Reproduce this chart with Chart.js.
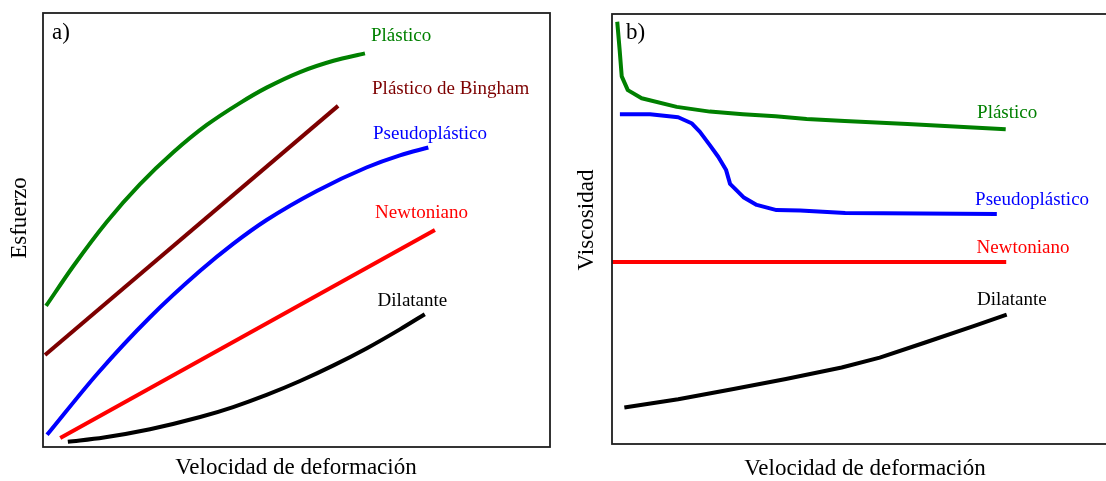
<!DOCTYPE html>
<html lang="es">
<head>
<meta charset="utf-8">
<title>Comportamiento reológico de fluidos</title>
<script src="https://cdn.jsdelivr.net/npm/chart.js@4.4.0/dist/chart.umd.min.js"></script>
<style>
  html, body { margin: 0; padding: 0; background: #fff; }
  #wrap { position: relative; width: 1106px; height: 481px; overflow: hidden; }
  .panel { position: absolute; top: 0; height: 481px; }
  #pa { left: 0; width: 560px; }
  #pb { left: 560px; width: 546px; }
</style>
</head>
<body>
<div id="wrap">
  <div class="panel" id="pa"><canvas id="ca" width="560" height="481"></canvas></div>
  <div class="panel" id="pb"><canvas id="cb" width="546" height="481"></canvas></div>
</div>
<script>
// ---- Panel a: esfuerzo frente a velocidad de deformación (unidades relativas 0-100) ----
const aPlasticoX   = [0.6, 6.0, 12.6, 19.1, 25.7, 32.3, 38.9, 44.1, 50.7, 57.3, 63.5];
const aPlasticoY   = [32.5, 41.7, 51.9, 60.5, 67.9, 74.2, 79.3, 82.8, 86.4, 89.0, 90.7];
const aBinghamX    = [0.4, 58.2];
const aBinghamY    = [21.2, 78.6];
const aPseudoX     = [0.8, 10.8, 21.1, 31.0, 37.5, 44.1, 54.0, 63.8, 70.4, 76.0];
const aPseudoY     = [2.8, 17.0, 29.9, 40.6, 46.8, 52.3, 59.0, 64.4, 67.2, 69.0];
const aNewtonX     = [3.4, 77.3];
const aNewtonY     = [2.1, 50.0];
const aDilatanteX  = [4.9, 12.0, 21.1, 31.0, 37.5, 44.1, 50.7, 57.3, 63.8, 70.4, 75.3];
const aDilatanteY  = [1.2, 2.2, 4.1, 6.9, 9.2, 12.0, 15.2, 18.8, 22.7, 27.1, 30.6];

// ---- Panel b: viscosidad frente a velocidad de deformación ----
const bPlasticoX   = [1.06, 1.55, 1.97, 3.2, 6.0, 13.1, 19.8, 26.5, 33.1, 39.4, 47.1, 59.8, 79.7];
const bPlasticoY   = [98.2, 91.6, 85.5, 82.3, 80.4, 78.4, 77.3, 76.7, 76.2, 75.6, 75.1, 74.4, 73.2];
const bPseudoX     = [1.6, 7.7, 13.4, 16.1, 17.8, 19.8, 21.5, 23.1, 23.9, 26.6, 29.3, 33.3, 38.1, 47.2, 77.9];
const bPseudoY     = [76.7, 76.7, 76.0, 74.6, 72.6, 69.5, 66.8, 63.7, 60.5, 57.4, 55.6, 54.4, 54.3, 53.7, 53.5];
const bNewtonX     = [0, 79.8];
const bNewtonY     = [42.3, 42.3];
const bDilatanteX  = [2.5, 13.4, 24.6, 35.2, 46.5, 54.2, 63.4, 73.2, 79.9];
const bDilatanteY  = [8.5, 10.4, 12.8, 15.1, 17.8, 20.1, 23.6, 27.4, 30.1];

const nombresA = ['Plástico', 'Plástico de Bingham', 'Pseudoplástico', 'Newtoniano', 'Dilatante'];
const nombresB = ['Plástico', 'Pseudoplástico', 'Newtoniano', 'Dilatante'];
const tituloX = 'Velocidad de deformación';
const tituloYA = 'Esfuerzo';
const tituloYB = 'Viscosidad';

const VERDE = '#008000', GRANATE = '#7d0000', AZUL = '#0000ff', ROJO = '#ff0000', NEGRO = '#000000';
const SERIF = '"Liberation Serif", "Times New Roman", serif';

function pts(xs, ys) { return xs.map((x, i) => ({ x: x, y: ys[i] })); }

function serie(label, xs, ys, color, smooth) {
  return {
    label: label,
    data: pts(xs, ys),
    borderColor: color,
    backgroundColor: color,
    borderWidth: 4,
    pointRadius: 0,
    showLine: true,
    fill: false,
    tension: smooth ? 0.4 : 0,
    cubicInterpolationMode: smooth ? 'monotone' : 'default',
    borderJoinStyle: 'round',
    clip: false
  };
}

// Marco, etiqueta del panel, títulos de ejes y rótulos de cada curva
const decoracion = {
  id: 'decoracion',
  afterDraw(chart, args, o) {
    const { ctx, chartArea: a, scales } = chart;
    ctx.save();
    ctx.strokeStyle = '#1e1e1e';
    ctx.lineWidth = 1.8;
    ctx.strokeRect(a.left, a.top, a.width + (o.abiertoDerecha ? 6 : 0), a.height);

    ctx.textBaseline = 'middle';
    ctx.fillStyle = '#000';
    ctx.font = '23px ' + SERIF;
    ctx.textAlign = 'left';
    ctx.fillText(o.etiqueta, a.left + o.etiquetaDx, a.top + o.etiquetaDy);

    ctx.textAlign = 'center';
    ctx.fillText(o.tituloX, o.tituloXpos[0], o.tituloXpos[1]);
    ctx.save();
    ctx.translate(o.tituloYpos[0], o.tituloYpos[1]);
    ctx.rotate(-Math.PI / 2);
    ctx.fillText(o.tituloY, 0, 0);
    ctx.restore();

    ctx.font = '19px ' + SERIF;
    ctx.textAlign = 'left';
    o.rotulos.forEach(r => {
      ctx.fillStyle = r.color;
      ctx.fillText(r.texto, scales.x.getPixelForValue(r.u), scales.y.getPixelForValue(r.v));
    });
    ctx.restore();
  }
};

function opciones(padding, deco) {
  return {
    responsive: false,
    devicePixelRatio: 1,
    animation: false,
    layout: { padding: padding },
    plugins: { legend: { display: false }, tooltip: { enabled: false }, decoracion: deco },
    scales: {
      x: { type: 'linear', min: 0, max: 100, display: false },
      y: { type: 'linear', min: 0, max: 100, display: false }
    },
    events: []
  };
}

new Chart(document.getElementById('ca'), {
  type: 'scatter',
  data: {
    datasets: [
      serie(nombresA[0], aPlasticoX, aPlasticoY, VERDE, true),
      serie(nombresA[1], aBinghamX, aBinghamY, GRANATE, false),
      serie(nombresA[2], aPseudoX, aPseudoY, AZUL, true),
      serie(nombresA[3], aNewtonX, aNewtonY, ROJO, false),
      serie(nombresA[4], aDilatanteX, aDilatanteY, NEGRO, true)
    ]
  },
  options: opciones({ left: 43, top: 13, right: 10, bottom: 34 }, {
    etiqueta: 'a)', etiquetaDx: 9, etiquetaDy: 20, abiertoDerecha: false,
    tituloX: tituloX, tituloXpos: [296, 468],
    tituloY: tituloYA, tituloYpos: [20, 218],
    rotulos: [
      { texto: nombresA[0], u: 64.7, v: 94.8, color: VERDE },
      { texto: nombresA[1], u: 64.9, v: 82.5, color: GRANATE },
      { texto: nombresA[2], u: 65.1, v: 72.1, color: AZUL },
      { texto: nombresA[3], u: 65.5, v: 54.0, color: ROJO },
      { texto: nombresA[4], u: 66.0, v: 33.6, color: NEGRO }
    ]
  }),
  plugins: [decoracion]
});

new Chart(document.getElementById('cb'), {
  type: 'scatter',
  data: {
    datasets: [
      serie(nombresB[0], bPlasticoX, bPlasticoY, VERDE, false),
      serie(nombresB[1], bPseudoX, bPseudoY, AZUL, false),
      serie(nombresB[2], bNewtonX, bNewtonY, ROJO, false),
      serie(nombresB[3], bDilatanteX, bDilatanteY, NEGRO, false)
    ]
  },
  options: opciones({ left: 52, top: 14, right: 0, bottom: 37 }, {
    etiqueta: 'b)', etiquetaDx: 14, etiquetaDy: 19, abiertoDerecha: true,
    tituloX: tituloX, tituloXpos: [305, 469],
    tituloY: tituloYB, tituloYpos: [27, 220],
    rotulos: [
      { texto: nombresB[0], u: 73.9, v: 76.9, color: VERDE },
      { texto: nombresB[1], u: 73.5, v: 56.8, color: AZUL },
      { texto: nombresB[2], u: 73.8, v: 45.6, color: ROJO },
      { texto: nombresB[3], u: 73.9, v: 33.4, color: NEGRO }
    ]
  }),
  plugins: [decoracion]
});
</script>
</body>
</html>
